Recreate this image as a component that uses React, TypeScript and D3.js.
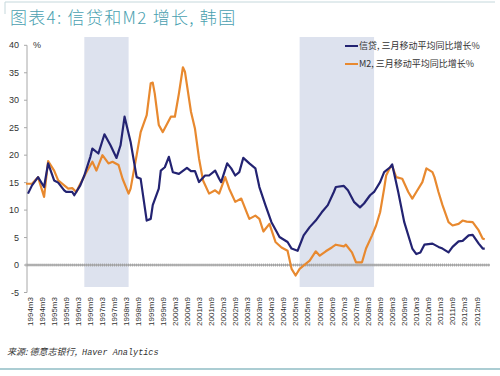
import React from "react";
import * as d3 from "d3";

const W = 500;
const H = 376;

const titleText = "图表4: 信贷和M2 增长, 韩国";
const sourceCn = "来源: 德意志银行,";
const sourceEn = "Haver Analytics";
const legendLabels = ["信贷, 三月移动平均同比增长%", "M2, 三月移动平均同比增长%"];

const yTicks = [-5, 0, 5, 10, 15, 20, 25, 30, 35, 40];

const xTickLabels = [
  "1994m3", "1994m9", "1995m3", "1995m9", "1996m3", "1996m9", "1997m3", "1997m9",
  "1998m3", "1998m9", "1999m3", "1999m9", "2000m3", "2000m9", "2001m3", "2001m9",
  "2002m3", "2002m9", "2003m3", "2003m9", "2004m3", "2004m9", "2005m3", "2005m9",
  "2006m3", "2006m9", "2007m3", "2007m9", "2008m3", "2008m9", "2009m3", "2009m9",
  "2010m3", "2010m9", "2011m3", "2011m9", "2012m3", "2012m9",
];

const shadeStarts = ["1996-06", "2005-05"];
const shadeEnds = ["1998-04", "2008-06"];

const creditDates = [
  "1994-02", "1994-04", "1994-07", "1994-10", "1994-12", "1995-03", "1995-05", "1995-08",
  "1995-09", "1995-12", "1996-01", "1996-04", "1996-06", "1996-09", "1996-10", "1997-01",
  "1997-04", "1997-07", "1997-10", "1997-12", "1998-02", "1998-05", "1998-08", "1998-10",
  "1999-01", "1999-03", "1999-04", "1999-07", "1999-08", "1999-10", "1999-12", "2000-02",
  "2000-05", "2000-09", "2000-11", "2001-01", "2001-03", "2001-06", "2001-08", "2001-11",
  "2002-01", "2002-02", "2002-05", "2002-07", "2002-09", "2002-11", "2003-01", "2003-04",
  "2003-07", "2003-09", "2003-12", "2004-03", "2004-07", "2004-11", "2005-01", "2005-04",
  "2005-07", "2005-10", "2006-01", "2006-04", "2006-07", "2006-10", "2006-11", "2007-03",
  "2007-05", "2007-08", "2007-11", "2008-01", "2008-04", "2008-06", "2008-09", "2008-11",
  "2009-02", "2009-03", "2009-06", "2009-09", "2010-01", "2010-03", "2010-05", "2010-07",
  "2010-11", "2011-02", "2011-04", "2011-07", "2011-09", "2011-12", "2012-02", "2012-05",
  "2012-07", "2012-10", "2012-12", "2013-01",
];
const creditValues = [
  13.0, 14.5, 16.0, 14.2, 18.5, 15.4, 15.0, 13.6,
  13.3, 13.3, 12.7, 14.5, 16.3, 19.7, 21.2, 20.3,
  23.8, 21.8, 19.5, 21.8, 27.0, 22.4, 16.0, 15.7,
  8.1, 8.4, 10.9, 13.9, 17.2, 17.8, 19.7, 16.9,
  16.6, 17.7, 17.1, 17.1, 15.1, 16.3, 16.3, 17.2,
  15.7, 15.1, 18.5, 17.6, 16.3, 16.9, 19.5, 18.5,
  17.6, 14.2, 10.9, 7.8, 5.1, 4.2, 3.0, 2.6,
  5.4, 6.9, 8.1, 9.6, 10.9, 13.3, 14.2, 14.4,
  13.6, 11.5, 10.5, 11.2, 12.7, 13.3, 15.1, 16.9,
  17.8, 18.3, 13.3, 7.8, 3.0, 2.0, 2.3, 3.7,
  3.9, 3.3, 3.0, 2.3, 3.3, 4.3, 4.4, 5.4,
  5.5, 3.9, 3.0, 3.0,
];

const m2Dates = [
  "1994-01", "1994-04", "1994-07", "1994-10", "1994-12", "1995-03", "1995-05", "1995-08",
  "1995-10", "1995-12", "1996-02", "1996-04", "1996-07", "1996-10", "1996-12", "1997-03",
  "1997-06", "1997-08", "1997-11", "1998-01", "1998-04", "1998-05", "1998-08", "1998-10",
  "1999-01", "1999-03", "1999-04", "1999-05", "1999-07", "1999-09", "2000-01", "2000-03",
  "2000-05", "2000-07", "2000-08", "2000-11", "2001-01", "2001-03", "2001-05", "2001-08",
  "2001-11", "2002-01", "2002-04", "2002-06", "2002-09", "2002-12", "2003-03", "2003-04",
  "2003-07", "2003-09", "2003-11", "2004-02", "2004-05", "2004-08", "2004-11", "2005-01",
  "2005-03", "2005-05", "2005-08", "2005-10", "2006-01", "2006-03", "2006-06", "2006-09",
  "2006-11", "2007-03", "2007-04", "2007-07", "2007-09", "2007-12", "2008-02", "2008-05",
  "2008-07", "2008-09", "2008-11", "2008-12", "2009-02", "2009-03", "2009-05", "2009-08",
  "2009-11", "2010-01", "2010-03", "2010-06", "2010-08", "2010-11", "2010-12", "2011-02",
  "2011-04", "2011-07", "2011-09", "2011-12", "2012-02", "2012-04", "2012-07", "2012-10",
  "2012-12", "2013-01",
];
const m2Values = [
  14.8, 14.8, 16.0, 12.4, 18.9, 17.2, 15.4, 14.5,
  13.9, 14.0, 13.3, 14.8, 16.9, 18.8, 17.2, 20.0,
  18.5, 18.8, 18.2, 15.7, 13.0, 13.9, 20.0, 24.2,
  27.3, 33.1, 33.2, 31.2, 25.5, 24.2, 27.0, 27.0,
  31.2, 36.0, 35.2, 27.9, 24.8, 19.4, 15.4, 13.0,
  13.6, 13.0, 16.0, 13.9, 11.5, 12.1, 9.3, 8.4,
  9.0, 8.4, 6.1, 7.5, 4.2, 3.2, 2.6, -0.7,
  -1.9, -0.7, 0.2, 0.8, 2.5, 1.7, 2.5, 3.2,
  3.7, 3.4, 3.7, 2.3, 0.5, 0.5, 3.0, 5.4,
  7.2, 9.6, 13.9, 16.3, 17.8, 18.0, 16.0, 15.7,
  13.3, 12.1, 13.3, 15.1, 17.6, 16.9, 16.0, 13.3,
  10.9, 7.8, 7.2, 7.5, 8.1, 7.9, 7.8, 6.3,
  4.8, 4.7,
];

const NAVY = "#232372";
const ORANGE = "#e8892f";
const CJK = "'Noto Sans CJK SC', 'Liberation Sans', sans-serif";

function monthIndex(s: string): number {
  const [y, m] = s.split("-").map(Number);
  return y * 12 + (m - 1);
}
function labelIndex(s: string): number {
  const [y, m] = s.split("m").map(Number);
  return y * 12 + (m - 1);
}

export default function App() {
  const x = d3
    .scaleLinear()
    .domain([monthIndex("1994-03"), monthIndex("2012-09")])
    .range([30, 476.7]);
  const y = d3.scaleLinear().domain([-5, 40]).range([292.5, 45.3]);

  const axisX = 27;
  const plotRight = 490;

  const line = d3
    .line<[number, number]>()
    .x((d) => x(d[0]))
    .y((d) => y(d[1]));

  const creditPts: [number, number][] = creditDates.map((d, i) => [monthIndex(d), creditValues[i]]);
  const m2Pts: [number, number][] = m2Dates.map((d, i) => [monthIndex(d), m2Values[i]]);

  const minorTicks: number[] = [];
  for (let m = monthIndex("1994-01"); x(m) <= plotRight; m++) minorTicks.push(m);

  return (
    <svg
      width={W}
      height={H}
      style={{ position: "absolute", left: 0, top: 0, background: "#fff" }}
    >
      <rect x={0} y={0} width={W} height={H} fill="#fff" />
      {/* frame lines */}
      <line x1={5} x2={495} y1={2} y2={2} stroke="#c5d8dc" strokeWidth={1} />
      <line x1={5} x2={5} y1={2} y2={14} stroke="#c5d8dc" strokeWidth={1} />
      <line x1={0} x2={W} y1={369} y2={369} stroke="#8fbdc4" strokeWidth={1.5} />

      {/* title */}
      <text x={10} y={24} fontSize={17} letterSpacing={1.3} fill="#4a9fb0" fontFamily={CJK} fontWeight={300}>
        {titleText}
      </text>

      {/* shaded regions */}
      {shadeStarts.map((s, i) => (
        <rect
          key={s}
          x={x(monthIndex(s))}
          y={37}
          width={x(monthIndex(shadeEnds[i])) - x(monthIndex(s))}
          height={250}
          fill="#dde2ee"
        />
      ))}

      {/* y axis */}
      <line x1={axisX} x2={axisX} y1={y(40)} y2={y(-5)} stroke="#a8a8a8" strokeWidth={1} />
      {yTicks.map((t) => (
        <g key={t}>
          <line x1={axisX - 3} x2={axisX} y1={y(t)} y2={y(t)} stroke="#a8a8a8" />
          <text
            x={19}
            y={y(t)}
            dy="0.35em"
            textAnchor="end"
            fontSize={9}
            fill="#333"
            fontFamily="'Liberation Sans', Arial, sans-serif"
          >
            {t}
          </text>
        </g>
      ))}
      <text x={33} y={48} fontSize={9} fill="#333" fontFamily="'Liberation Sans', Arial, sans-serif">
        %
      </text>

      {/* zero line with monthly ticks */}
      <line x1={axisX} x2={plotRight} y1={y(0)} y2={y(0)} stroke="#a8a8a8" strokeWidth={1.5} />
      {minorTicks.map((m) => (
        <line key={m} x1={x(m)} x2={x(m)} y1={y(0) - 1.5} y2={y(0) + 1.5} stroke="#9a9a9a" strokeWidth={0.8} />
      ))}

      {/* x tick labels */}
      {xTickLabels.map((l) => (
        <text
          key={l}
          transform={`translate(${x(labelIndex(l))},297) rotate(-90)`}
          textAnchor="end"
          dy="0.35em"
          fontSize={8}
          fill="#333"
          fontFamily="'Liberation Sans', Arial, sans-serif"
        >
          {l}
        </text>
      ))}

      {/* series */}
      <path d={line(m2Pts) || ""} fill="none" stroke={ORANGE} strokeWidth={2.2} strokeLinejoin="round" />
      <path d={line(creditPts) || ""} fill="none" stroke={NAVY} strokeWidth={2.2} strokeLinejoin="round" />

      {/* legend */}
      <line x1={345} x2={358} y1={46} y2={46} stroke={NAVY} strokeWidth={2} />
      <text x={359} y={46} dy="0.35em" fontSize={9} fill="#333" fontFamily={CJK}>
        {legendLabels[0]}
      </text>
      <line x1={345} x2={358} y1={64} y2={64} stroke={ORANGE} strokeWidth={2} />
      <text x={359} y={64} dy="0.35em" fontSize={9} fill="#333" fontFamily={CJK}>
        {legendLabels[1]}
      </text>

      {/* source */}
      <text x={7} y={355} fontSize={9} fill="#333" fontStyle="italic" fontFamily={CJK}>
        <tspan>{sourceCn}</tspan>
        <tspan dx={5} fontFamily="'Liberation Mono', 'DejaVu Sans Mono', monospace" fontSize={8.5}>
          {sourceEn}
        </tspan>
      </text>
    </svg>
  );
}
